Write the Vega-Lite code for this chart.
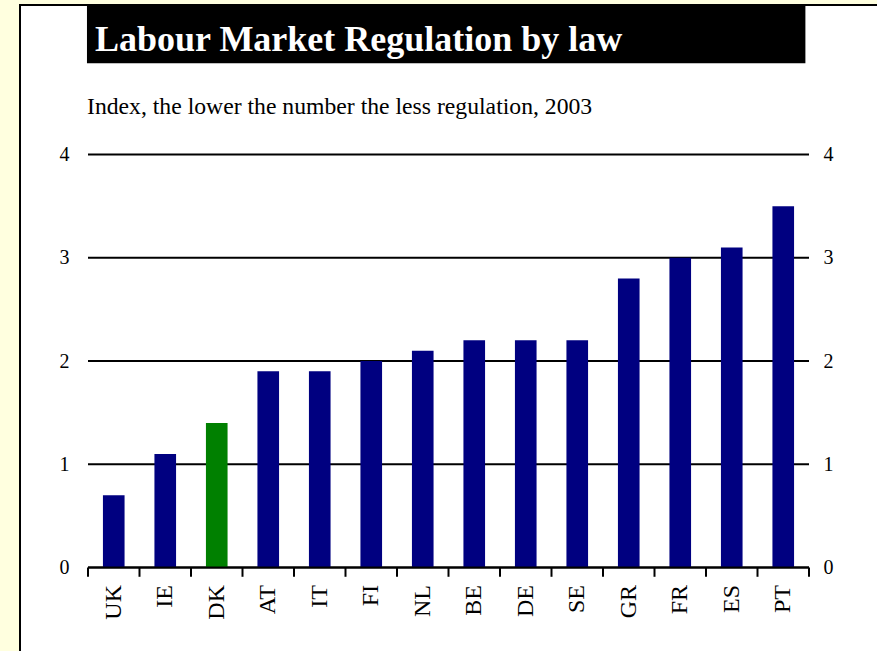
{
  "$schema": "https://vega.github.io/schema/vega-lite/v6.json",
  "width": 877,
  "height": 651,
  "autosize": {"type": "fit", "contains": "padding"},
  "padding": {"left": 20, "top": 5, "right": -3, "bottom": -3},
  "background": "#FFFFDF",
  "view": {"fill": "white", "stroke": "black", "strokeWidth": 2},
  "config": {"font": "Liberation Serif"},
  "datasets": {
    "bars": [
      {"country": "UK", "index": 0.7, "group": "Other"},
      {"country": "IE", "index": 1.1, "group": "Other"},
      {"country": "DK", "index": 1.4, "group": "Denmark"},
      {"country": "AT", "index": 1.9, "group": "Other"},
      {"country": "IT", "index": 1.9, "group": "Other"},
      {"country": "FI", "index": 2.0, "group": "Other"},
      {"country": "NL", "index": 2.1, "group": "Other"},
      {"country": "BE", "index": 2.2, "group": "Other"},
      {"country": "DE", "index": 2.2, "group": "Other"},
      {"country": "SE", "index": 2.2, "group": "Other"},
      {"country": "GR", "index": 2.8, "group": "Other"},
      {"country": "FR", "index": 3.0, "group": "Other"},
      {"country": "ES", "index": 3.1, "group": "Other"},
      {"country": "PT", "index": 3.5, "group": "Other"}
    ],
    "grid": [{"g": 0}, {"g": 1}, {"g": 2}, {"g": 3}, {"g": 4}],
    "title": [{"t": "Labour Market Regulation by law"}],
    "subtitle": [{"t": "Index, the lower the number the less regulation, 2003"}]
  },
  "resolve": {"axis": {"x": "independent", "y": "independent"}},
  "layer": [
    {
      "data": {"name": "title"},
      "mark": {"type": "rect", "color": "black"},
      "encoding": {
        "x": {"datum": "UK", "type": "nominal", "bandPosition": -0.02, "axis": null,
          "scale": {"domain": ["UK","IE","DK","AT","IT","FI","NL","BE","DE","SE","GR","FR","ES","PT"], "range": [68, 789], "paddingInner": 0, "paddingOuter": 0}},
        "x2": {"datum": "PT", "bandPosition": 0.93},
        "y": {"datum": 5.448, "type": "quantitative", "axis": null,
          "scale": {"domain": [-0.8378, 5.448], "nice": false, "zero": false}},
        "y2": {"datum": 4.883}
      }
    },
    {
      "data": {"name": "title"},
      "mark": {"type": "text", "align": "left", "baseline": "alphabetic", "fontSize": 36, "fontWeight": "bold", "color": "white", "dx": 7},
      "encoding": {
        "x": {"datum": "UK", "type": "nominal", "bandPosition": 0, "axis": null},
        "y": {"datum": 5.0, "type": "quantitative", "axis": null},
        "text": {"field": "t"}
      }
    },
    {
      "data": {"name": "subtitle"},
      "mark": {"type": "text", "align": "left", "baseline": "alphabetic", "fontSize": 23.7, "color": "black", "dx": -1},
      "encoding": {
        "x": {"datum": "UK", "type": "nominal", "bandPosition": 0, "axis": null},
        "y": {"datum": 4.392, "type": "quantitative", "axis": null},
        "text": {"field": "t"}
      }
    },
    {
      "data": {"name": "grid"},
      "mark": {"type": "rule", "color": "black", "strokeWidth": 2},
      "encoding": {
        "x": {"datum": "UK", "type": "nominal", "bandPosition": 0, "axis": null},
        "x2": {"datum": "PT", "bandPosition": 1},
        "y": {"field": "g", "type": "quantitative",
          "axis": {"orient": "right", "values": [0, 1, 2, 3, 4], "offset": -71, "domain": false, "ticks": false, "tickSize": 0, "grid": false, "labelPadding": 14, "labelFontSize": 20, "labelColor": "black", "title": null}}
      }
    },
    {
      "data": {"name": "bars"},
      "mark": {"type": "bar", "width": {"band": 0.42}},
      "encoding": {
        "x": {"field": "country", "type": "nominal", "sort": null,
          "axis": {"orient": "bottom", "offset": -86.5, "domain": false, "ticks": false, "labelAngle": -90, "labelPadding": 17, "labelFontSize": 24, "labelColor": "black", "title": null, "grid": false}},
        "y": {"field": "index", "type": "quantitative",
          "axis": {"orient": "left", "values": [0, 1, 2, 3, 4], "offset": -68, "domain": false, "ticks": false, "tickSize": 0, "grid": false, "labelPadding": 19, "labelFontSize": 20, "labelColor": "black", "title": null}},
        "color": {"field": "group", "type": "nominal", "legend": null,
          "scale": {"domain": ["Other", "Denmark"], "range": ["#000080", "#008000"]}}
      }
    },
    {
      "data": {"name": "grid"},
      "transform": [{"filter": "datum.g == 0"}],
      "mark": {"type": "rule", "color": "black", "strokeWidth": 2},
      "encoding": {
        "x": {"datum": "UK", "type": "nominal", "bandPosition": 0, "axis": null},
        "x2": {"datum": "PT", "bandPosition": 1},
        "y": {"field": "g", "type": "quantitative", "axis": null}
      }
    },
    {
      "data": {"name": "bars"},
      "mark": {"type": "rule", "color": "black", "strokeWidth": 2},
      "encoding": {
        "x": {"field": "country", "type": "nominal", "sort": null, "bandPosition": 0, "axis": null},
        "y": {"datum": 0, "type": "quantitative", "axis": null},
        "y2": {"datum": -0.09}
      }
    },
    {
      "data": {"name": "bars"},
      "transform": [{"filter": "datum.country == 'PT'"}],
      "mark": {"type": "rule", "color": "black", "strokeWidth": 2},
      "encoding": {
        "x": {"field": "country", "type": "nominal", "sort": null, "bandPosition": 1, "axis": null},
        "y": {"datum": 0, "type": "quantitative", "axis": null},
        "y2": {"datum": -0.09}
      }
    }
  ]
}
